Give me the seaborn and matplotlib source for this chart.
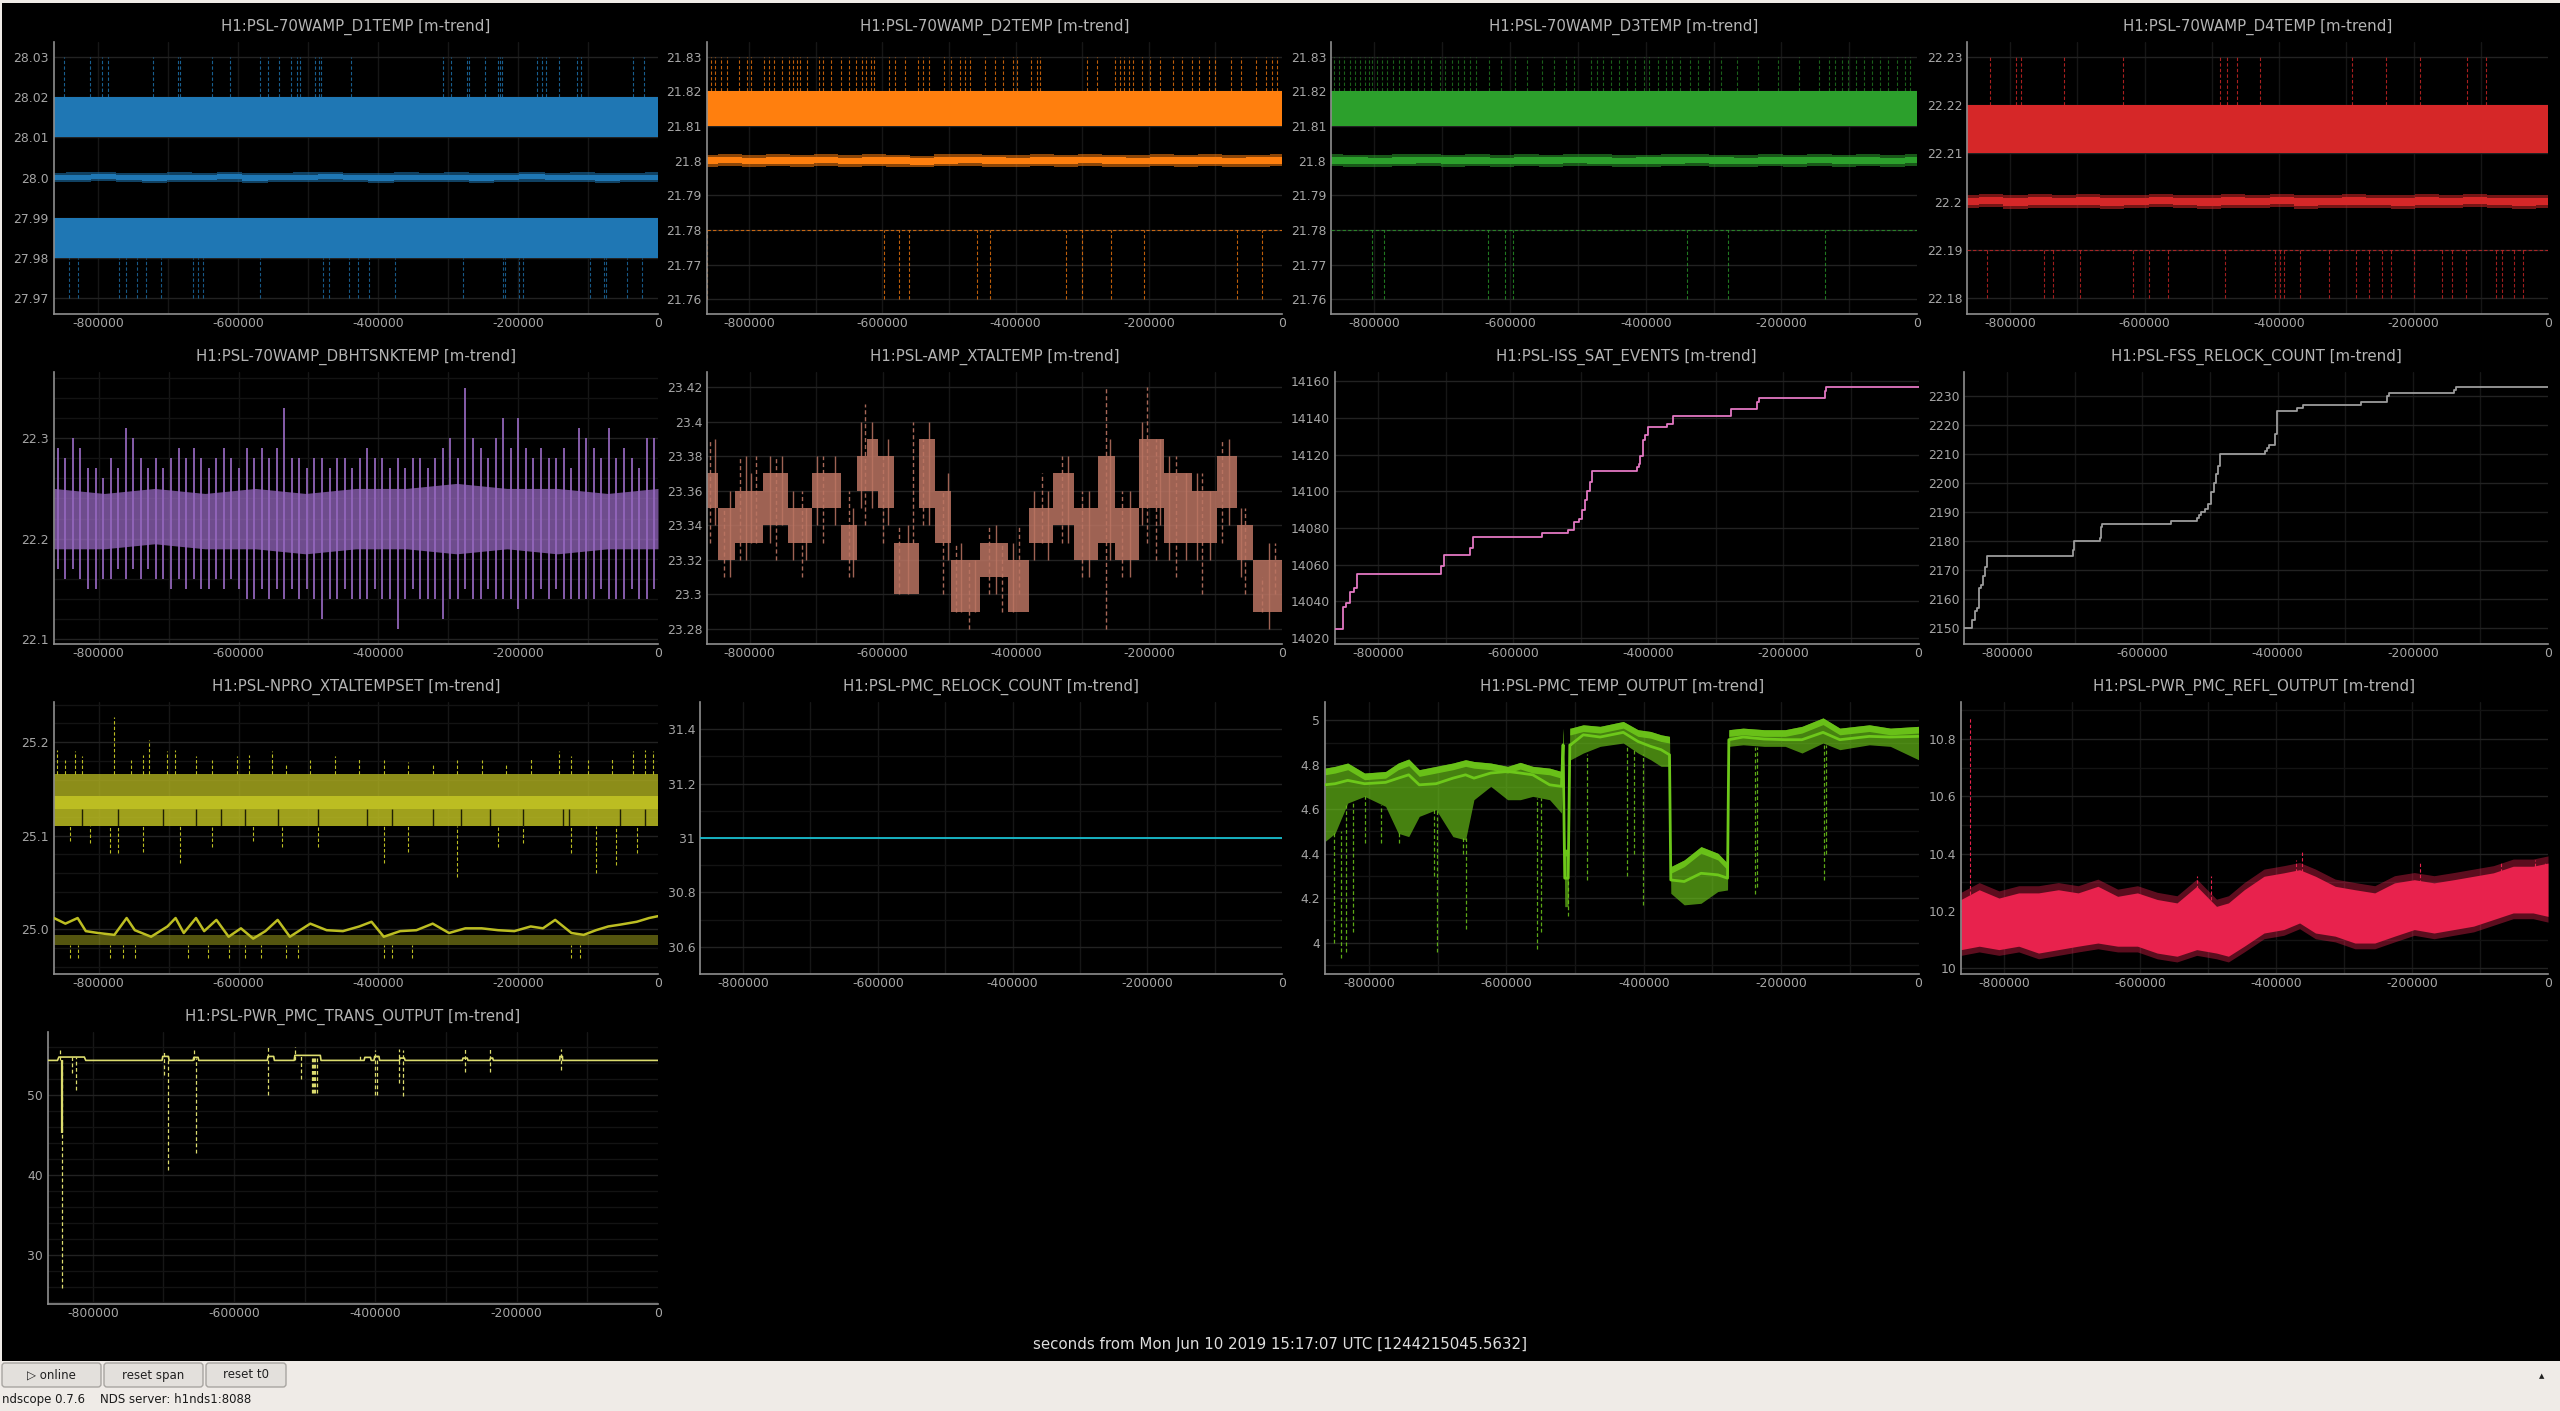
import numpy as np
import matplotlib
matplotlib.use("Agg")
import matplotlib.pyplot as plt
import matplotlib.transforms as mtransforms
from matplotlib.patches import Rectangle, FancyBboxPatch
import seaborn as sns

sns.set_theme(style="dark")
plt.rcParams["font.family"] = ["DejaVu Sans"]
plt.rcParams["axes.unicode_minus"] = False

W, H = 2560, 1411
XMIN, XMAX = -864000, 0
XTICKS = [-800000, -600000, -400000, -200000, 0]
XTICK_LABELS = ["-800000", "-600000", "-400000", "-200000", "0"]
XGRID = [-800000, -700000, -600000, -500000, -400000, -300000, -200000, -100000]

# time knots for the noisy mean traces (every 36000 s)
KNOTS = [-864000, -828000, -792000, -756000, -720000, -684000, -648000, -612000,
         -576000, -540000, -504000, -468000, -432000, -396000, -360000, -324000,
         -288000, -252000, -216000, -180000, -144000, -108000, -72000, -36000, 0]

# ---------------- D1 ----------------
d1_max_band = [28.01, 28.02]
d1_min_band = [27.98, 27.99]
d1_mean = [28.0000, 28.0001, 28.0003, 28.0000, 27.9999, 28.0001, 28.0000, 28.0002, 27.9999,
           28.0000, 28.0001, 28.0002, 28.0000, 27.9999, 28.0001, 28.0000, 28.0001, 27.9999,
           28.0000, 28.0002, 28.0000, 28.0001, 27.9999, 28.0000, 28.0001]
d1_noise = 0.0012
d1_top_x = [-849600, -811200, -795000, -785400, -721800, -685800, -683400, -637200, -612000,
            -568200, -557400, -541200, -525000, -515400, -511200, -490800, -484200, -481200,
            -439200, -306600, -296400, -272400, -270600, -246600, -229200, -226200, -223200,
            -173400, -166200, -159600, -141600, -115200, -110400, -36000, -20400]
d1_top_v = 28.03
d1_low_x = [-842400, -828600, -771000, -760200, -745200, -731400, -710400, -664200, -657600,
            -649800, -568800, -479400, -469800, -442200, -428400, -413400, -376200, -278400,
            -221400, -218400, -198000, -193200, -97200, -77400, -75000, -44400, -23400]
d1_low_v = 27.97

# ---------------- D2 ----------------
d2_max_band = [21.81, 21.82]
d2_min_line = 21.78
d2_mean = [21.8000, 21.8002, 21.7999, 21.8001, 21.8000, 21.8002, 21.7999, 21.8001, 21.8000,
           21.7998, 21.8001, 21.8002, 21.8000, 21.7999, 21.8001, 21.8000, 21.8002, 21.8000,
           21.7999, 21.8001, 21.8000, 21.8001, 21.7999, 21.8000, 21.8001]
d2_noise = 0.0017
d2_top_x = [-857900, -850500, -841900, -833300, -815000, -802700, -796600, -777000, -770800,
            -762300, -750000, -740300, -734200, -727900, -723000, -713200, -694900, -688700,
            -676500, -661800, -649500, -639700, -631100, -625000, -617700, -612800, -590700,
            -580900, -566200, -546600, -539200, -529400, -507400, -496300, -482800, -475500,
            -468100, -446100, -431400, -419100, -404400, -397100, -376200, -367700, -362700,
            -292900, -278200, -250000, -243900, -237700, -229200, -223000, -210800, -198500,
            -183800, -164200, -149500, -134800, -125000, -110300, -100500, -76000, -61300,
            -39200, -24500, -14700, -7400]
d2_top_v = 21.83
d2_low_x = [-863000, -596800, -574800, -560100, -458400, -438700, -323600, -300300, -256100,
            -207100, -67400, -29400]
d2_low_v = 21.76

# ---------------- D3 ----------------
d3_max_band = [21.81, 21.82]
d3_min_line = 21.78
d3_mean = [21.8001, 21.8000, 21.7999, 21.8001, 21.8002, 21.8000, 21.8001, 21.7999, 21.8001,
           21.8000, 21.8002, 21.8001, 21.7999, 21.8000, 21.8001, 21.8002, 21.8000, 21.7999,
           21.8001, 21.8000, 21.8002, 21.8000, 21.8001, 21.7999, 21.8002]
d3_noise = 0.0017
d3_top_x = [-859200, -851900, -844700, -836300, -827900, -820700, -813400, -808600, -803800,
            -796600, -789400, -782100, -772500, -764100, -755700, -746000, -736400, -726800,
            -716000, -703900, -695500, -685900, -676300, -667800, -659400, -649800, -631700,
            -613700, -592000, -575200, -553500, -535500, -517400, -505400, -481300, -471700,
            -463300, -451200, -439200, -427200, -415100, -403100, -394700, -382600, -370600,
            -361000, -349000, -334500, -322500, -306800, -288800, -264700, -234600, -204600,
            -174500, -144400, -130000, -120300, -110700, -101100, -90200, -78200, -66200,
            -54100, -42100, -30100, -18000, -9600]
d3_top_v = 21.83
d3_low_x = [-803800, -785800, -632900, -607700, -595600, -339300, -278000, -136000]
d3_low_v = 21.76

# ---------------- D4 ----------------
d4_max_band = [22.21, 22.22]
d4_min_line = 22.19
d4_mean = [22.2000, 22.2002, 22.1999, 22.2001, 22.2000, 22.2001, 22.1999, 22.2000, 22.2002,
           22.2000, 22.1999, 22.2001, 22.2000, 22.2002, 22.1999, 22.2000, 22.2001, 22.2000,
           22.1999, 22.2001, 22.2000, 22.2002, 22.2000, 22.1999, 22.2000]
d4_noise = 0.0014
d4_top_x = [-829400, -790600, -783000, -720100, -631300, -488500, -476700, -462000, -427900,
            -291000, -240400, -190400, -119900, -91700]
d4_top_v = 22.23
d4_low_x = [-834700, -748900, -736500, -695400, -617800, -593100, -565500, -480800, -406200,
            -397900, -392100, -368600, -325000, -285100, -265700, -246300, -232800, -198700,
            -156900, -142200, -121700, -77000, -68200, -51100, -37000]
d4_low_v = 22.18

# ---------------- DBHTSNK ----------------
DB_KNOTS = [-864000, -792000, -720000, -648000, -576000, -504000, -432000, -360000,
            -288000, -216000, -144000, -72000, 0]
db_core_lo = [22.19, 22.19, 22.195, 22.19, 22.19, 22.185, 22.19, 22.19, 22.185, 22.19, 22.185, 22.19, 22.19]
db_core_hi = [22.25, 22.245, 22.25, 22.245, 22.25, 22.245, 22.25, 22.25, 22.255, 22.25, 22.25, 22.245, 22.25]
db_top = [22.29, 22.28, 22.30, 22.29, 22.27, 22.27, 22.26, 22.28, 22.27, 22.31,
          22.30, 22.28, 22.27, 22.28, 22.27, 22.28, 22.29, 22.28, 22.29, 22.28,
          22.27, 22.28, 22.29, 22.28, 22.27, 22.29, 22.28, 22.29, 22.28, 22.29,
          22.33, 22.28, 22.28, 22.27, 22.28, 22.28, 22.27, 22.28, 22.28, 22.27,
          22.28, 22.29, 22.28, 22.28, 22.27, 22.28, 22.27, 22.28, 22.28, 22.27,
          22.28, 22.29, 22.30, 22.28, 22.35, 22.30, 22.29, 22.28, 22.30, 22.32,
          22.29, 22.32, 22.29, 22.28, 22.29, 22.28, 22.28, 22.29, 22.27, 22.31,
          22.30, 22.29, 22.28, 22.31, 22.28, 22.29, 22.28, 22.27, 22.30, 22.30]
db_bot = [22.17, 22.16, 22.17, 22.16, 22.15, 22.15, 22.16, 22.16, 22.17, 22.16,
          22.17, 22.16, 22.17, 22.16, 22.16, 22.15, 22.16, 22.15, 22.16, 22.15,
          22.15, 22.16, 22.15, 22.16, 22.15, 22.14, 22.14, 22.15, 22.14, 22.15,
          22.14, 22.15, 22.14, 22.15, 22.14, 22.12, 22.14, 22.14, 22.15, 22.14,
          22.14, 22.14, 22.15, 22.14, 22.14, 22.11, 22.14, 22.15, 22.14, 22.14,
          22.14, 22.12, 22.14, 22.14, 22.15, 22.14, 22.14, 22.15, 22.14, 22.14,
          22.14, 22.13, 22.14, 22.14, 22.15, 22.14, 22.15, 22.14, 22.14, 22.14,
          22.14, 22.14, 22.15, 22.14, 22.14, 22.14, 22.15, 22.14, 22.14, 22.15]

# ---------------- AMP_XTALTEMP ----------------
xt_x = [-864000, -846800, -822300, -779300, -742500, -705700, -662700, -638200, -623500,
        -607500, -583000, -546100, -521600, -497000, -454100, -411100, -380400, -343600,
        -312900, -276100, -251600, -214800, -177900, -135000, -98200, -67500, -42900, 0]
xt_lo = [23.35, 23.32, 23.33, 23.34, 23.33, 23.35, 23.32, 23.36, 23.36, 23.35, 23.30, 23.35,
         23.33, 23.29, 23.31, 23.29, 23.33, 23.34, 23.32, 23.33, 23.32, 23.35, 23.33, 23.33,
         23.35, 23.32, 23.29, 23.30]
xt_hi = [23.37, 23.35, 23.36, 23.37, 23.35, 23.37, 23.34, 23.38, 23.39, 23.38, 23.33, 23.39,
         23.36, 23.32, 23.33, 23.32, 23.35, 23.37, 23.35, 23.38, 23.35, 23.39, 23.37, 23.36,
         23.38, 23.34, 23.32, 23.33]
xt_spike_x = [-859000, -838000, -815000, -790000, -760000, -722000, -690000, -650000, -626000,
              -600000, -575000, -555000, -540000, -510000, -490000, -470000, -440000, -420000,
              -395000, -360000, -330000, -300000, -265000, -240000, -203000, -190000, -160000,
              -120000, -90000, -55000, -30000, -10000]
xt_spike_lo = [23.33, 23.31, 23.32, 23.33, 23.32, 23.31, 23.33, 23.31, 23.34, 23.33, 23.30,
               23.33, 23.34, 23.30, 23.29, 23.28, 23.30, 23.29, 23.30, 23.33, 23.33, 23.31,
               23.28, 23.31, 23.33, 23.32, 23.31, 23.30, 23.33, 23.30, 23.29, 23.30]
xt_spike_hi = [23.39, 23.35, 23.38, 23.38, 23.38, 23.36, 23.38, 23.36, 23.41, 23.38, 23.34,
               23.40, 23.39, 23.36, 23.33, 23.32, 23.34, 23.33, 23.34, 23.37, 23.38, 23.36,
               23.42, 23.36, 23.42, 23.39, 23.38, 23.37, 23.39, 23.35, 23.31, 23.33]
xt_hair_x = [-852000, -830000, -806000, -798000, -770000, -752000, -735000, -715000, -698000,
             -672000, -645000, -632000, -616000, -592000, -562000, -530000, -502000, -482000,
             -462000, -430000, -404000, -372000, -352000, -322000, -290000, -258000, -228000,
             -210000, -184000, -170000, -145000, -128000, -108000, -80000, -62000, -20000]
xt_hair_lo = [23.34, 23.31, 23.32, 23.33, 23.33, 23.34, 23.32, 23.32, 23.34, 23.34, 23.31,
              23.35, 23.35, 23.34, 23.30, 23.34, 23.32, 23.29, 23.29, 23.30, 23.29, 23.32,
              23.32, 23.33, 23.31, 23.32, 23.31, 23.34, 23.34, 23.32, 23.32, 23.32, 23.32,
              23.34, 23.31, 23.28]
xt_hair_hi = [23.39, 23.36, 23.38, 23.37, 23.38, 23.38, 23.36, 23.35, 23.38, 23.38, 23.35,
              23.40, 23.40, 23.39, 23.34, 23.40, 23.37, 23.33, 23.32, 23.34, 23.33, 23.36,
              23.36, 23.38, 23.36, 23.39, 23.36, 23.40, 23.39, 23.38, 23.37, 23.37, 23.36,
              23.39, 23.35, 23.33]

# ---------------- ISS_SAT_EVENTS ----------------
iss_x = [-864000, -852800, -851500, -847100, -842200, -835900, -830900, -706400, -702000,
         -663400, -659700, -556900, -519500, -510100, -502700, -497700, -493300, -490200,
         -487100, -484000, -416700, -414200, -411800, -408000, -404300, -399900, -371900,
         -363800, -277200, -239800, -236700, -138900, -137000, 0]
iss_v = [14025, 14029, 14037, 14039, 14045, 14047, 14055, 14059, 14065, 14069, 14075, 14077,
         14079, 14083, 14085, 14090, 14095, 14100, 14105, 14111, 14113, 14115, 14119, 14128,
         14131, 14135, 14137, 14141, 14145, 14149, 14151, 14155, 14157, 14157]

# ---------------- FSS_RELOCK_COUNT ----------------
fss_x = [-864000, -852400, -848200, -845300, -842400, -838900, -836000, -833600, -830100,
         -703300, -701500, -663500, -660600, -659400, -557100, -519100, -516200, -513300,
         -507400, -502800, -498700, -494000, -491100, -488100, -485200, -418600, -415700,
         -412100, -403400, -401000, -371800, -363000, -276500, -238500, -235600, -139100,
         -136200, 0]
fss_v = [2150, 2153, 2156, 2157, 2164, 2165, 2168, 2171, 2175, 2177, 2180, 2181, 2185, 2186,
         2187, 2188, 2189, 2190, 2191, 2193, 2197, 2200, 2203, 2206, 2210, 2211, 2212, 2213,
         2217, 2225, 2226, 2227, 2228, 2230, 2231, 2232, 2233, 2233]

# ---------------- NPRO_XTALTEMPSET ----------------
npro_upper = [25.110, 25.128, 25.142, 25.166]
npro_min_band = [24.983, 24.994]
npro_x = [-864000, -847700, -830200, -818500, -801000, -777600, -760100, -748400, -725100,
          -701700, -690100, -678400, -660900, -649200, -631700, -614200, -596600, -579100,
          -561600, -544100, -526600, -497400, -474000, -450700, -427300, -409800, -392300,
          -368900, -345600, -322300, -298900, -275600, -252200, -228800, -205500, -182100,
          -164600, -147100, -123800, -106300, -88700, -71200, -53700, -30400, -12800, 0]
npro_mean = [25.012, 25.006, 25.012, 24.998, 24.996, 24.994, 25.012, 24.999, 24.992, 25.003,
             25.012, 24.996, 25.012, 24.998, 25.010, 24.992, 25.001, 24.990, 24.998, 25.010,
             24.992, 25.006, 24.999, 24.998, 25.003, 25.008, 24.992, 24.998, 24.999, 25.006,
             24.996, 25.001, 25.001, 24.999, 24.998, 25.003, 25.001, 25.010, 24.996, 24.994,
             24.999, 25.003, 25.005, 25.008, 25.012, 25.014]
npro_up_x = [-859400, -847700, -833700, -824300, -778800, -754300, -736800, -728600, -701700,
             -690400, -660900, -637500, -602500, -585000, -552300, -532400, -497400, -462400,
             -427300, -392300, -357300, -322300, -287200, -252200, -217200, -182100, -141300,
             -123800, -100400, -65400, -36200, -18700, -7000]
npro_up_v = [25.192, 25.181, 25.190, 25.185, 25.227, 25.181, 25.186, 25.2025, 25.190, 25.192,
             25.185, 25.181, 25.185, 25.186, 25.190, 25.178, 25.181, 25.185, 25.183, 25.181,
             25.179, 25.178, 25.181, 25.181, 25.178, 25.183, 25.190, 25.185, 25.181, 25.183,
             25.190, 25.192, 25.190]
npro_dn_x = [-841800, -812600, -783500, -771800, -736800, -684200, -637500, -579100, -538300,
             -485700, -392300, -357300, -287200, -228800, -193800, -123800, -88700, -59500, -30400]
npro_dn_v = [25.094, 25.092, 25.081, 25.081, 25.083, 25.071, 25.088, 25.094, 25.088, 25.088,
             25.071, 25.083, 25.056, 25.088, 25.092, 25.081, 25.060, 25.069, 25.081]
npro_gap_x = [-824300, -771800, -707600, -660900, -625800, -590800, -544100, -485700, -415700,
              -380700, -322300, -281400, -240500, -193800, -135400, -127200, -53700, -18700]
npro_low_x = [-841800, -830100, -783500, -766000, -748500, -672500, -643300, -614200, -590800,
              -567500, -532400, -514900, -392300, -380700, -351500, -123800, -112100]
npro_low_v = 24.969

# ---------------- PMC_RELOCK_COUNT ----------------
prc_x = [-864000, 0]
prc_v = [31, 31]

# ---------------- PMC_TEMP_OUTPUT ----------------
pt_x = [-864000, -849300, -830900, -806400, -775800, -757400, -742100, -726800, -702300,
        -677800, -659400, -647200, -622700, -598200, -579800, -561500, -537000, -519800,
        -517400, -515000, -510000, -507600, -506400, -488000, -463500, -429800, -408400,
        -390000, -374700, -362500, -360600, -341100, -316600, -292100, -278000, -276100,
        -255300, -224700, -194100, -169600, -139000, -114500, -71600, -41000, 0]
pt_top = [4.785, 4.793, 4.808, 4.763, 4.770, 4.808, 4.826, 4.778, 4.793, 4.808, 4.823, 4.815,
          4.808, 4.793, 4.811, 4.793, 4.785, 4.770, 4.965, 4.420, 4.420, 4.965, 4.965, 4.980,
          4.973, 4.995, 4.958, 4.950, 4.935, 4.928, 4.342, 4.372, 4.432, 4.402, 4.357, 4.958,
          4.965, 4.958, 4.958, 4.973, 5.011, 4.965, 4.980, 4.965, 4.973]
pt_mean = [4.710, 4.715, 4.730, 4.715, 4.721, 4.740, 4.755, 4.710, 4.715, 4.740, 4.755, 4.740,
           4.763, 4.770, 4.763, 4.755, 4.710, 4.703, 4.890, 4.290, 4.290, 4.890, 4.890, 4.935,
           4.925, 4.946, 4.905, 4.883, 4.868, 4.845, 4.282, 4.275, 4.312, 4.305, 4.290, 4.913,
           4.925, 4.916, 4.913, 4.913, 4.946, 4.913, 4.928, 4.925, 4.928]
pt_bot = [4.455, 4.492, 4.628, 4.658, 4.613, 4.492, 4.477, 4.568, 4.598, 4.477, 4.462, 4.643,
          4.703, 4.643, 4.643, 4.658, 4.643, 4.583, 4.823, 4.162, 4.162, 4.823, 4.823, 4.853,
          4.883, 4.898, 4.853, 4.823, 4.793, 4.793, 4.222, 4.170, 4.177, 4.230, 4.237, 4.883,
          4.890, 4.883, 4.883, 4.853, 4.898, 4.868, 4.890, 4.883, 4.823]
pt_spike_x = [-851100, -840100, -833900, -823500, -806400, -783100, -755600, -705400, -701100,
              -662500, -659400, -555400, -549200, -510600, -483100, -424900, -414300, -400400,
              -238200, -235000, -137200, -134000]
pt_spike_lo = [4.00, 3.93, 3.96, 4.05, 4.45, 4.45, 4.45, 4.30, 3.96, 4.40, 4.06, 3.97, 4.05,
               4.12, 4.28, 4.30, 4.40, 4.17, 4.22, 4.25, 4.28, 4.40]
pt_spike_hi = [4.50, 4.50, 4.62, 4.63, 4.66, 4.62, 4.50, 4.60, 4.60, 4.47, 4.47, 4.65, 4.65,
               4.30, 4.85, 4.89, 4.87, 4.85, 4.88, 4.88, 4.89, 4.89]

# ---------------- PWR_PMC_REFL_OUTPUT ----------------
refl_x = [-864000, -837200, -808100, -779000, -749900, -720800, -691600, -662500, -633400,
          -604300, -575200, -546100, -517000, -487900, -470400, -447100, -418000, -388900,
          -365600, -342300, -313200, -284100, -255000, -225900, -196800, -167700, -138600,
          -109500, -80300, -51200, -22100, 0]
refl_top = [10.240, 10.274, 10.245, 10.263, 10.263, 10.274, 10.263, 10.286, 10.251, 10.263,
            10.240, 10.228, 10.286, 10.216, 10.228, 10.274, 10.321, 10.333, 10.344, 10.321,
            10.286, 10.274, 10.263, 10.298, 10.309, 10.298, 10.309, 10.321, 10.333, 10.356,
            10.356, 10.367]
refl_bot = [10.065, 10.077, 10.065, 10.077, 10.053, 10.065, 10.077, 10.088, 10.077, 10.077,
            10.053, 10.042, 10.065, 10.053, 10.042, 10.077, 10.123, 10.135, 10.158, 10.123,
            10.112, 10.088, 10.088, 10.112, 10.135, 10.123, 10.135, 10.147, 10.170, 10.193,
            10.193, 10.181]
refl_spike_x = [-850600, -517000, -496600, -370300, -361500, -188000, -68700, -19200, -4700]
refl_spike_hi = [10.873, 10.323, 10.323, 10.379, 10.414, 10.371, 10.374, 10.377, 10.374]

# ---------------- PWR_PMC_TRANS_OUTPUT ----------------
tr_x = [-864000, -850000, -848000, -812000, -810000, -702000, -701000, -693000, -692000,
        -658000, -657000, -651000, -650000, -553000, -552000, -544000, -543000, -515000,
        -514000, -478000, -477000, -416000, -415000, -407000, -406000, -402000, -401000,
        -395000, -394000, -366000, -365000, -359000, -358000, -277000, -276000, -270000,
        -269000, -238000, -237000, -234000, -233000, -139000, -138800, -135300, -135000, 0]
tr_v = [54.35, 54.35, 54.77, 54.77, 54.35, 54.35, 54.85, 54.85, 54.35, 54.35, 54.73, 54.73,
        54.35, 54.35, 54.85, 54.85, 54.35, 54.35, 54.98, 54.98, 54.35, 54.35, 54.73, 54.73,
        54.35, 54.35, 54.85, 54.85, 54.35, 54.35, 54.64, 54.64, 54.35, 54.35, 54.64, 54.64,
        54.35, 54.35, 54.64, 54.64, 54.35, 54.35, 54.85, 54.85, 54.35, 54.35]
tr_spike_x = [-846200, -843200, -830000, -823500, -699000, -693000, -657300, -654300, -551800,
              -514300, -505000, -490400, -488500, -487000, -485000, -483300, -421900, -401000,
              -397500, -367100, -360500, -273500, -237200, -137700]
tr_spike_lo = [54.4, 25.8, 52.8, 50.7, 52.5, 40.6, 54.4, 42.8, 50.0, 54.4, 52.0, 50.3, 50.3,
               50.3, 50.3, 50.3, 54.4, 50.0, 50.0, 51.5, 49.9, 52.9, 52.9, 53.2]
tr_spike_hi = [55.9, 54.4, 54.8, 54.8, 55.7, 54.85, 55.7, 54.7, 56.0, 56.0, 54.9, 54.9, 54.9,
               54.9, 54.9, 54.9, 55.2, 55.7, 54.8, 55.8, 55.7, 55.8, 55.8, 55.8]
tr_drop = [-843200, 45.2, 54.4]

# ---------------- colours / style ----------------
C_D1, C_D2, C_D3, C_D4 = "#1f77b4", "#ff7f0e", "#2ca02c", "#d62728"
C_DB, C_XT, C_ISS, C_FSS = "#9467bd", "#bb7462", "#e377c2", "#9c9c9c"
C_NPRO, C_PRC, C_PT, C_REFL, C_TR = "#bcbd22", "#17becf", "#6dc81a", "#e8224d", "#dcdc6e"
GRID_X = "#161616"
GRID_MAJ = "#222222"
GRID_MIN = "#131313"
TXT = "#b4b4b4"
TICK = "#a6a6a6"
SPINE = "#8e8e8e"
DASH = (0, (3, 2))

ROW_TOP = [42, 372, 702, 1032]
AX_H = 272

fig = plt.figure(figsize=(W / 100, H / 100), dpi=100)
fig.patch.set_facecolor("#efebe7")

bg = fig.add_axes([0, 0, 1, 1], zorder=-10)
bg.set_xlim(0, W)
bg.set_ylim(H, 0)
bg.axis("off")
bg.add_patch(Rectangle((2, 3), W - 2, 1358, facecolor="black", edgecolor="none"))


def panel(left, right, row, title, ylim, yticks, ylabels, yminor=()):
    top = ROW_TOP[row]
    ax = fig.add_axes([left / W, 1 - (top + AX_H) / H, (right - left) / W, AX_H / H])
    ax.set_facecolor("black")
    ax.set_xlim(XMIN, XMAX)
    ax.set_ylim(*ylim)
    for gx in XGRID:
        ax.axvline(gx, color=GRID_X, lw=1, zorder=0.5)
    for gy in yminor:
        ax.axhline(gy, color=GRID_MIN, lw=1, zorder=0.5)
    for gy in yticks:
        ax.axhline(gy, color=GRID_MAJ, lw=1, zorder=0.5)
    ax.set_xticks(XTICKS)
    ax.set_xticklabels(XTICK_LABELS)
    ax.set_yticks(yticks)
    ax.set_yticklabels(ylabels)
    ax.tick_params(axis="both", length=0, colors=TICK, labelsize=8.9)
    ax.tick_params(axis="x", pad=2.5)
    ax.tick_params(axis="y", pad=3.5)
    ax.grid(False)
    for side in ("top", "right"):
        ax.spines[side].set_visible(False)
    for side in ("left", "bottom"):
        ax.spines[side].set_visible(True)
        ax.spines[side].set_color(SPINE)
        ax.spines[side].set_linewidth(1.2)
    tr = mtransforms.offset_copy(ax.transAxes, fig=fig, x=0, y=15, units="dots")
    ax.text(0.5, 1.0, title, transform=tr, ha="center", va="center", color=TXT, fontsize=10.8)
    return ax


def line(ax, x, y, color, lw=1.3, **kw):
    sns.lineplot(x=x, y=y, ax=ax, color=color, lw=lw, estimator=None, sort=False,
                 legend=False, zorder=3, **kw)
    ax.set_xlabel("")
    ax.set_ylabel("")


def quantized(ax, color, max_band, mean, noise, top_x, top_v, low_x, low_v,
              min_band=None, min_line=None, top_alpha=0.8):
    ax.fill_between([XMIN, XMAX], max_band[0], max_band[1], color=color, lw=0, zorder=2)
    m = np.array(mean)
    ax.fill_between(KNOTS, m - noise, m + noise, step="mid", color=color, alpha=0.55, lw=0, zorder=2)
    ax.fill_between(KNOTS, m - noise * 0.55, m + noise * 0.55, step="mid", color=color, lw=0, zorder=2)
    ax.vlines(top_x, max_band[1], top_v, colors=color, linestyles=DASH, lw=0.8,
              alpha=top_alpha, zorder=2)
    if min_band is not None:
        ax.fill_between([XMIN, XMAX], min_band[0], min_band[1], color=color, lw=0, zorder=2)
        base = min_band[0]
    else:
        base = min_line
        line(ax, [XMIN, XMAX], [min_line, min_line], color, lw=0.8, linestyle=DASH, alpha=0.75)
    ax.vlines(low_x, low_v, base, colors=color, linestyles=DASH, lw=0.8, alpha=0.75, zorder=2)


# ---- row 1 ----
ax = panel(53.5, 658, 0, "H1:PSL-70WAMP_D1TEMP [m-trend]", (27.9661, 28.0337),
           [27.97, 27.98, 27.99, 28.0, 28.01, 28.02, 28.03],
           ["27.97", "27.98", "27.99", "28.0", "28.01", "28.02", "28.03"])
quantized(ax, C_D1, d1_max_band, d1_mean, d1_noise, d1_top_x, d1_top_v, d1_low_x, d1_low_v,
          min_band=d1_min_band)

D23_TICKS = [21.76, 21.77, 21.78, 21.79, 21.80, 21.81, 21.82, 21.83]
D23_LABELS = ["21.76", "21.77", "21.78", "21.79", "21.8", "21.81", "21.82", "21.83"]
ax = panel(706.5, 1282, 0, "H1:PSL-70WAMP_D2TEMP [m-trend]", (21.7557, 21.8343), D23_TICKS, D23_LABELS)
quantized(ax, C_D2, d2_max_band, d2_mean, d2_noise, d2_top_x, d2_top_v, d2_low_x, d2_low_v,
          min_line=d2_min_line, top_alpha=0.75)

ax = panel(1331, 1917, 0, "H1:PSL-70WAMP_D3TEMP [m-trend]", (21.7557, 21.8343), D23_TICKS, D23_LABELS)
quantized(ax, C_D3, d3_max_band, d3_mean, d3_noise, d3_top_x, d3_top_v, d3_low_x, d3_low_v,
          min_line=d3_min_line, top_alpha=0.6)

ax = panel(1967, 2548, 0, "H1:PSL-70WAMP_D4TEMP [m-trend]", (22.1767, 22.2331),
           [22.18, 22.19, 22.20, 22.21, 22.22, 22.23],
           ["22.18", "22.19", "22.2", "22.21", "22.22", "22.23"])
quantized(ax, C_D4, d4_max_band, d4_mean, d4_noise, d4_top_x, d4_top_v, d4_low_x, d4_low_v,
          min_line=d4_min_line)

# ---- row 2 ----
ax = panel(54, 658, 1, "H1:PSL-70WAMP_DBHTSNKTEMP [m-trend]", (22.0954, 22.3657),
           [22.1, 22.2, 22.3], ["22.1", "22.2", "22.3"],
           [22.12, 22.14, 22.16, 22.18, 22.22, 22.24, 22.26, 22.28, 22.32, 22.34, 22.36])
db_x = np.linspace(-858600, -5400, len(db_top))
ax.vlines(db_x, db_bot, db_top, colors=C_DB, lw=1.4, alpha=0.9, zorder=2)
ax.fill_between(DB_KNOTS, db_core_lo, db_core_hi, color=C_DB, alpha=0.75, lw=0, zorder=2)

ax = panel(707, 1282, 1, "H1:PSL-AMP_XTALTEMP [m-trend]", (23.2713, 23.4287),
           [23.28, 23.30, 23.32, 23.34, 23.36, 23.38, 23.40, 23.42],
           ["23.28", "23.3", "23.32", "23.34", "23.36", "23.38", "23.4", "23.42"])
ax.fill_between(xt_x, xt_lo, xt_hi, step="post", color=C_XT, alpha=0.85, lw=0, zorder=2)
ax.vlines(xt_hair_x, xt_hair_lo, xt_hair_hi, colors=C_XT, lw=1.0, alpha=0.85, zorder=2)
ax.vlines(xt_spike_x, xt_spike_lo, xt_spike_hi, colors=C_XT, linestyles=DASH, lw=1.0,
          alpha=0.9, zorder=2)

ax = panel(1335, 1918.5, 1, "H1:PSL-ISS_SAT_EVENTS [m-trend]", (14016.7, 14165.1),
           [14020, 14040, 14060, 14080, 14100, 14120, 14140, 14160],
           ["14020", "14040", "14060", "14080", "14100", "14120", "14140", "14160"])
line(ax, iss_x, iss_v, C_ISS, lw=1.3, drawstyle="steps-post")

ax = panel(1964, 2548, 1, "H1:PSL-FSS_RELOCK_COUNT [m-trend]", (2144.6, 2238.3),
           [2150, 2160, 2170, 2180, 2190, 2200, 2210, 2220, 2230],
           ["2150", "2160", "2170", "2180", "2190", "2200", "2210", "2220", "2230"])
line(ax, fss_x, fss_v, C_FSS, lw=1.3, drawstyle="steps-post")

# ---- row 3 ----
ax = panel(54, 658, 2, "H1:PSL-NPRO_XTALTEMPSET [m-trend]", (24.9522, 25.2428),
           [25.0, 25.1, 25.2], ["25.0", "25.1", "25.2"],
           [24.96, 24.98, 25.02, 25.04, 25.06, 25.08, 25.12, 25.14, 25.16, 25.18, 25.22, 25.24])
ax.fill_between([XMIN, XMAX], npro_upper[0], npro_upper[1], color=C_NPRO, alpha=0.85, lw=0, zorder=2)
ax.fill_between([XMIN, XMAX], npro_upper[2], npro_upper[3], color=C_NPRO, alpha=0.75, lw=0, zorder=2)
ax.fill_between([XMIN, XMAX], npro_upper[1], npro_upper[2], color=C_NPRO, lw=0, zorder=2)
ax.vlines(npro_gap_x, npro_upper[0], npro_upper[1], colors="black", lw=1.0, alpha=0.8, zorder=2.1)
ax.vlines(npro_up_x, npro_upper[3], npro_up_v, colors=C_NPRO, linestyles=DASH, lw=0.8, zorder=2)
ax.vlines(npro_dn_x, npro_dn_v, npro_upper[0], colors=C_NPRO, linestyles=DASH, lw=0.8, zorder=2)
ax.fill_between([XMIN, XMAX], npro_min_band[0], npro_min_band[1], color=C_NPRO, alpha=0.45, lw=0, zorder=2)
ax.vlines(npro_low_x, npro_low_v, npro_min_band[0], colors=C_NPRO, linestyles=DASH, lw=0.8, zorder=2)
line(ax, npro_x, npro_mean, C_NPRO, lw=1.8)

ax = panel(700, 1282, 2, "H1:PSL-PMC_RELOCK_COUNT [m-trend]", (30.5, 31.5),
           [30.6, 30.8, 31.0, 31.2, 31.4], ["30.6", "30.8", "31", "31.2", "31.4"],
           [30.7, 30.9, 31.1, 31.3])
line(ax, prc_x, prc_v, C_PRC, lw=1.3)

ax = panel(1325, 1918.5, 2, "H1:PSL-PMC_TEMP_OUTPUT [m-trend]", (3.8589, 5.0826),
           [4.0, 4.2, 4.4, 4.6, 4.8, 5.0], ["4", "4.2", "4.4", "4.6", "4.8", "5"],
           [3.9, 4.1, 4.3, 4.5, 4.7, 4.9])
ax.fill_between(pt_x, pt_bot, pt_top, color=C_PT, alpha=0.65, lw=0, zorder=2)
ax.fill_between(pt_x, np.array(pt_top) - 0.03, pt_top, color=C_PT, alpha=0.9, lw=0, zorder=2)
ax.vlines(pt_spike_x, pt_spike_lo, pt_spike_hi, colors=C_PT, linestyles=DASH, lw=0.9,
          alpha=0.85, zorder=2)
line(ax, pt_x, pt_mean, C_PT, lw=2.0)

ax = panel(1961, 2548, 2, "H1:PSL-PWR_PMC_REFL_OUTPUT [m-trend]", (9.980, 10.929),
           [10.0, 10.2, 10.4, 10.6, 10.8], ["10", "10.2", "10.4", "10.6", "10.8"],
           [10.1, 10.3, 10.5, 10.7, 10.9])
ax.fill_between(refl_x, np.array(refl_bot) - 0.02, np.array(refl_top) + 0.025, color=C_REFL,
                alpha=0.4, lw=0, zorder=2)
ax.fill_between(refl_x, refl_bot, refl_top, color=C_REFL, lw=0, zorder=2)
ax.vlines(refl_spike_x, 10.2, refl_spike_hi, colors=C_REFL, linestyles=DASH, lw=0.8, zorder=2)

# ---- row 4 ----
ax = panel(47.6, 658, 3, "H1:PSL-PWR_PMC_TRANS_OUTPUT [m-trend]", (23.81, 57.91),
           [30, 40, 50], ["30", "40", "50"],
           [24, 26, 28, 32, 34, 36, 38, 42, 44, 46, 48, 52, 54, 56])
ax.vlines(tr_spike_x, tr_spike_lo, tr_spike_hi, colors=C_TR, linestyles=DASH, lw=0.9, zorder=2)
ax.vlines([tr_drop[0]], tr_drop[1], tr_drop[2], colors=C_TR, lw=1.6, zorder=2)
line(ax, tr_x, tr_v, C_TR, lw=1.2)

# ---- bottom text and toolbar ----
bg.text(1280, 1344, "seconds from Mon Jun 10 2019 15:17:07 UTC [1244215045.5632]",
        ha="center", va="center", color="#dedede", fontsize=10.8)
for x0, x1, label in [(2, 101, "\u25b7 online"), (104, 203, "reset span"), (206, 286, "reset t0")]:
    bg.add_patch(FancyBboxPatch((x0, 1363), x1 - x0, 24, boxstyle="round,pad=0,rounding_size=3",
                                facecolor="#e3e0dc", edgecolor="#a8a5a1", lw=1))
    bg.text((x0 + x1) / 2, 1375, label, ha="center", va="center", color="#202020", fontsize=8.5)
bg.text(2, 1399, "ndscope 0.7.6    NDS server: h1nds1:8088", ha="left", va="center",
        color="#1a1a1a", fontsize=8.5)
bg.text(2542, 1376, "\u25b2", ha="center", va="center", color="#202020", fontsize=5)

fig.savefig("out.png", dpi=100, facecolor=fig.get_facecolor())
